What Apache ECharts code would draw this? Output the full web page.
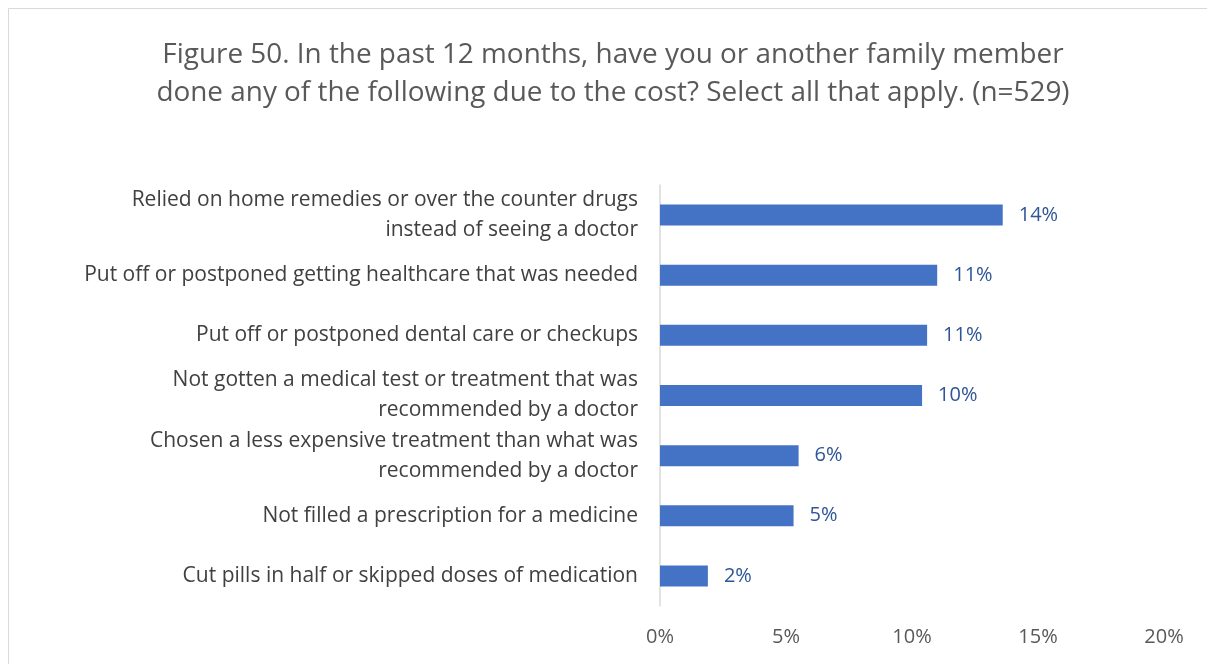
<!DOCTYPE html>
<html><head><meta charset="utf-8">
<script src="https://cdn.jsdelivr.net/npm/echarts@6/dist/echarts.min.js"></script>
<style>html,body{margin:0;padding:0;background:#fff}#c{width:1207px;height:664px}</style>
</head><body><div id="c"></div>
<script>
const titleText = "Figure 50. In the past 12 months, have you or another family member\ndone any of the following due to the cost? Select all that apply. (n=529)";
const categories = [
  "Relied on home remedies or over the counter drugs\ninstead of seeing a doctor",
  "Put off or postponed getting healthcare that was needed",
  "Put off or postponed dental care or checkups",
  "Not gotten a medical test or treatment that was\nrecommended by a doctor",
  "Chosen a less expensive treatment than what was\nrecommended by a doctor",
  "Not filled a prescription for a medicine",
  "Cut pills in half or skipped doses of medication"
];
const values = [13.6, 11.0, 10.6, 10.4, 5.5, 5.3, 1.9];
const axisTicks = [0, 5, 10, 15, 20];

const FONT = "'Open Sans', 'Noto Sans', sans-serif";
const chart = echarts.init(document.getElementById('c'));
chart.setOption({
  animation: false,
  backgroundColor: '#fff',
  graphic: [{type:'rect', shape:{x:8.5,y:8.5,width:1210,height:670}, style:{fill:'none', stroke:'#d9d9d9', lineWidth:1}, silent:true}],
  title: {
    text: titleText, left: 608, textAlign: 'center', top: 31,
    textStyle: {fontFamily: FONT, fontSize: 27.9, fontWeight: 'normal', color: '#595959', lineHeight: 38}
  },
  grid: {left: 660, right: 43, top: 185, bottom: 58, containLabel: false},
  xAxis: {
    type: 'value', min: axisTicks[0], max: axisTicks[axisTicks.length-1], interval: 5,
    axisLabel: {formatter: v => v + '%', color: '#595959', fontFamily: FONT, fontSize: 20, margin: 21},
    splitLine: {show: false}, axisLine: {show: false}, axisTick: {show: false}
  },
  yAxis: {
    type: 'category', data: categories, inverse: true,
    axisLine: {show: true, lineStyle: {color: '#d9d9d9', width: 1.5}},
    axisTick: {show: false},
    axisLabel: {color: '#404040', fontFamily: FONT, fontSize: 21, lineHeight: 30, margin: 22, align: 'right'}
  },
  series: [{
    type: 'bar', data: values, barWidth: 21,
    itemStyle: {color: '#4472C4'},
    label: {show: true, position: 'right', distance: 16, formatter: p => Math.round(p.value) + '%', color: '#2F5597', fontFamily: FONT, fontSize: 20}
  }]
});
</script></body></html>
